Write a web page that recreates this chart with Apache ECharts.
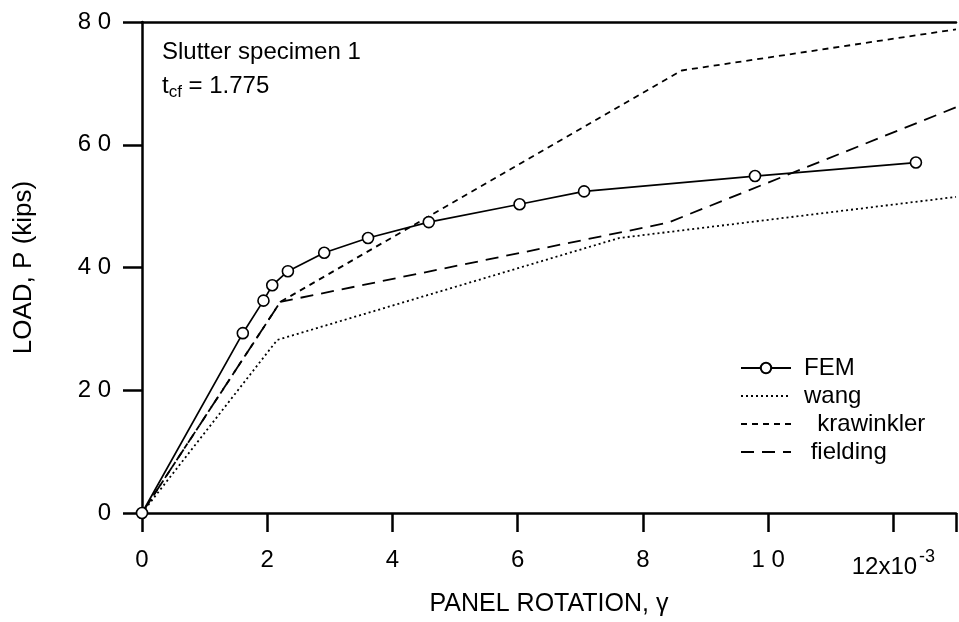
<!DOCTYPE html>
<html>
<head>
<meta charset="utf-8">
<script src="https://cdn.jsdelivr.net/npm/echarts@6/dist/echarts.min.js"></script>
<style>
html,body{margin:0;padding:0;background:#fff;}
#c{width:959px;height:622px;}
</style>
</head>
<body>
<div id="c"></div>
<script>
// ---- data (x in 10^-3 rad, y in kips) ----
const femX = [0, 1.61, 1.94, 2.08, 2.33, 2.91, 3.61, 4.58, 6.03, 7.06, 9.79, 12.36];
const femY = [0, 29.3, 34.6, 37.1, 39.4, 42.4, 44.8, 47.4, 50.3, 52.4, 54.9, 57.1];
const wangX = [0, 2.16, 7.62, 13];
const wangY = [0, 28.2, 44.8, 51.5];
const krawX = [0, 2.21, 8.62, 13];
const krawY = [0, 34.4, 72.1, 78.8];
const fieldX = [0, 2.21, 8.4, 13];
const fieldY = [0, 34.4, 47.3, 66.1];
const seriesNames = ['FEM', 'wang', '  krawinkler', ' fielding'];
const xTickValues = [0, 2, 4, 6, 8, 10, 12];
const xTickLabels = ['0', '2', '4', '6', '8', '1 0', '12x10{sup|-3}'];
const yTickValues = [0, 20, 40, 60, 80];
const yTickLabels = ['0', '2 0', '4 0', '6 0', '8 0'];
const xName = 'PANEL ROTATION, γ';
const yName = 'LOAD, P (kips)';
const noteLine1 = 'Slutter specimen 1';
const noteLine2 = 't{sub|cf} = 1.775';

const pair = (xs, ys) => xs.map((x, i) => [x, ys[i]]);
const FONT = 'Liberation Sans';
const chart = echarts.init(document.getElementById('c'), null, {renderer: 'canvas'});

const lineBase = {type: 'line', clip: false, animation: false, showSymbol: false, symbol: 'none',
  itemStyle: {color: 'rgba(0,0,0,0)', borderColor: 'rgba(0,0,0,0)'}};

chart.setOption({
  backgroundColor: '#fff',
  animation: false,
  textStyle: {fontFamily: FONT, color: '#000'},
  grid: {left: 142, top: 22, width: 825.5, height: 494, containLabel: false},
  xAxis: [{
    type: 'value', min: 0, max: 13, interval: 2, position: 'bottom',
    name: xName, nameLocation: 'middle', nameGap: 79,
    nameTextStyle: {fontFamily: FONT, fontSize: 25, color: '#000'},
    axisLine: {show: true, onZero: false, lineStyle: {color: '#000', width: 2.5}},
    axisTick: {show: true, inside: false, length: 19, lineStyle: {color: '#000', width: 2.5}},
    splitLine: {show: false},
    axisLabel: {
      margin: 35, fontFamily: FONT, fontSize: 24, color: '#000',
      formatter: v => { const i = xTickValues.indexOf(v); return i < 0 ? '' : xTickLabels[i]; },
      rich: {sup: {fontFamily: FONT, fontSize: 18, color: '#000', padding: [0, 0, 20, 2]}}
    }
  }, {
    type: 'value', min: 0, max: 13, position: 'top',
    axisLine: {show: true, onZero: false, lineStyle: {color: '#000', width: 2.5}},
    axisTick: {show: false}, axisLabel: {show: false}, splitLine: {show: false}
  }],
  yAxis: {
    type: 'value', min: 0, max: 80, interval: 20,
    name: yName, nameLocation: 'middle', nameGap: 105, nameRotate: 90,
    nameTextStyle: {fontFamily: FONT, fontSize: 26, color: '#000'},
    axisLine: {show: true, onZero: false, lineStyle: {color: '#000', width: 2.5}},
    axisTick: {show: true, inside: false, length: 19, lineStyle: {color: '#000', width: 2.5}},
    splitLine: {show: false},
    axisLabel: {
      margin: 31, fontFamily: FONT, fontSize: 24, color: '#000',
      formatter: v => { const i = yTickValues.indexOf(v); return i < 0 ? '' : yTickLabels[i]; }
    }
  },
  legend: {
    orient: 'vertical', left: 735, top: 351,
    itemWidth: 50, itemHeight: 13, itemGap: 4,
    textStyle: {fontFamily: FONT, fontSize: 24, color: '#000', padding: [0, 0, 0, 8]},
    data: seriesNames
  },
  graphic: [
    {type: 'text', left: 162, top: 40, style: {text: noteLine1, fontFamily: FONT, fontSize: 24, fill: '#000'}},
    {type: 'text', left: 162, top: 74, style: {
      text: noteLine2, fontFamily: FONT, fontSize: 24, fill: '#000',
      rich: {sub: {fontFamily: FONT, fontSize: 17, fill: '#000', padding: [12, 0, 0, 0]}}
    }}
  ],
  series: [
    {
      type: 'line', name: seriesNames[0], data: pair(femX, femY), clip: false, animation: false,
      symbol: 'circle', symbolSize: 11, showSymbol: true,
      itemStyle: {color: '#fff', borderColor: '#000', borderWidth: 1.6},
      lineStyle: {color: '#000', width: 1.7, type: 'solid'}, z: 5
    },
    Object.assign({}, lineBase, {
      name: seriesNames[1], data: pair(wangX, wangY),
      lineStyle: {color: '#000', width: 1.8, type: [2, 3]}
    }),
    Object.assign({}, lineBase, {
      name: seriesNames[2], data: pair(krawX, krawY),
      lineStyle: {color: '#000', width: 1.8, type: [6, 5]}
    }),
    Object.assign({}, lineBase, {
      name: seriesNames[3], data: pair(fieldX, fieldY),
      lineStyle: {color: '#000', width: 1.8, type: [13, 8]}
    })
  ]
});
</script>
</body>
</html>
